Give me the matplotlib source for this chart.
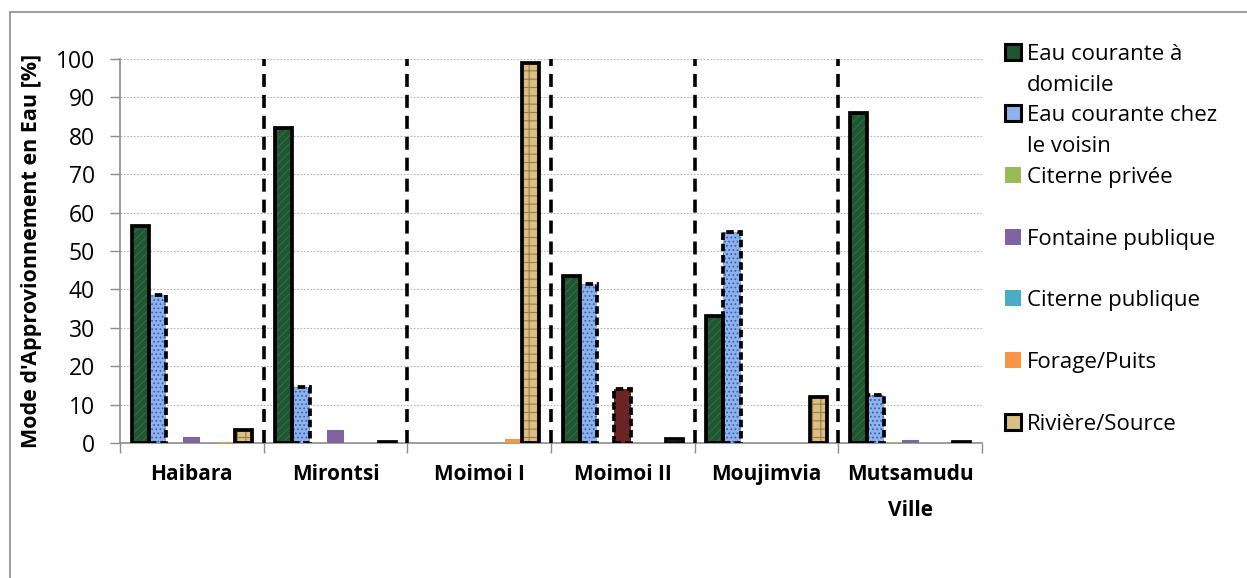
import matplotlib.pyplot as plt
from matplotlib.patches import Rectangle
import numpy as np

# villages et modes d'approvisionnement
villages = ["Haibara", "Mirontsi", "Moimoi I", "Moimoi II", "Moujimvia", "Mutsamudu\nVille"]
modes = ["Eau courante à\ndomicile", "Eau courante chez\nle voisin", "Citerne privée",
         "Fontaine publique", "Citerne publique", "Forage/Puits", "Rivière/Source"]

# pourcentages par village (un tableau par mode)
eau_domicile = [56.5, 82.0, 0.0, 43.5, 33.0, 86.0]
eau_voisin = [38.5, 14.5, 0.0, 41.5, 55.0, 12.5]
citerne_privee = [0.0, 0.0, 0.0, 0.0, 0.0, 0.3]
fontaine_publique = [1.5, 3.5, 0.0, 14.0, 0.0, 0.8]
citerne_publique = [0.0, 0.0, 0.0, 0.0, 0.0, 0.0]
forage_puits = [0.3, 0.0, 1.0, 0.0, 0.0, 0.0]
riviere_source = [3.5, 0.3, 99.0, 1.0, 12.0, 0.3]

series = [eau_domicile, eau_voisin, citerne_privee, fontaine_publique,
          citerne_publique, forage_puits, riviere_source]

yticks = list(range(0, 101, 10))

# style de chaque serie : (fond, couleur de trame, trame, bordure)
styles = [
    ("#1d5631", "#2f6e45", "////", "solid"),
    ("#8db2ee", "#3a62b0", "....", "dashed"),
    ("#9bbb59", None, None, None),
    ("#8064a2", None, None, None),
    ("#4bacc6", None, None, None),
    ("#f79646", None, None, None),
    ("#d9bf84", "#9a7c48", "++", "solid"),
]
# point isolé avec un format particulier (Moimoi II, fontaine)
special = {(3, 3): ("#6a2424", None, None, "dashed")}

plt.rcParams['font.family'] = ['Open Sans', 'DejaVu Sans']
plt.rcParams['hatch.linewidth'] = 0.8

fig = plt.figure(figsize=(12.47, 5.78), dpi=100)
ax = fig.add_axes([120 / 1247, 135 / 578, 862 / 1247, 384 / 578])

# cadre gris autour du graphique
fig.patches.append(Rectangle((10 / 1247, -0.1), 1.2, (578 - 12) / 578 + 0.1,
                             transform=fig.transFigure, fill=False,
                             edgecolor="#8c8c8c", lw=1.2))

n = len(series)
gap = 1.35
w = 1.0 / (n + gap)
x0 = np.arange(len(villages))

dash_bar = (0, (2.0, 1.0))
for k, vals in enumerate(series):
    for i, v in enumerate(vals):
        if v <= 0:
            continue
        face, hcol, hatch, border = special.get((i, k), styles[k])
        left = x0[i] + gap / 2 * w + k * w
        ax.bar(left, v, width=w, align="edge", color=face,
               edgecolor=hcol if hcol else face, hatch=hatch, lw=0, zorder=3)
        if border:
            ax.bar(left, v, width=w, align="edge", fill=False, edgecolor="black",
                   lw=2.7, linestyle="-" if border == "solid" else dash_bar,
                   zorder=4)

# séparateurs entre villages
for b in range(1, len(villages)):
    ax.axvline(b, color="black", lw=2.6, linestyle=(0, (3.6, 2.2)), zorder=5)

ax.set_xlim(0, len(villages))
ax.set_ylim(0, 100)
ax.set_yticks(yticks)
ax.yaxis.grid(True, linestyle=(0, (1.5, 1.5)), color="#b5b5b5", lw=0.8)
ax.set_axisbelow(True)

ax.set_xticks(np.arange(len(villages) + 1))
ax.set_xticklabels([])
ax.set_xticks(x0 + 0.5, minor=True)
ax.set_xticklabels(villages, minor=True, fontweight="bold", fontsize=15,
                   linespacing=1.95)
ax.tick_params(axis="x", which="minor", length=0, pad=15)
ax.tick_params(axis="x", which="major", length=7, color="#8c8c8c", width=1)
ax.tick_params(axis="y", length=7, color="#8c8c8c", width=1, labelsize=16.5, pad=11)

for s in ["top", "right"]:
    ax.spines[s].set_visible(False)
for s in ["left", "bottom"]:
    ax.spines[s].set_color("#8c8c8c")
    ax.spines[s].set_linewidth(1.2)

ax.set_ylabel("Mode d'Approvionnement en Eau [%]", fontweight="bold", fontsize=15.5)
ax.yaxis.set_label_coords(-78 / 862, 0.5)

# légende à droite : une ligne de texte par rangée
leg_y = [52, 113, 175, 237, 298, 360, 422]
line_h = 31
for k, (lab, y) in enumerate(zip(modes, leg_y)):
    face, hcol, hatch, border = styles[k]
    sq = 16
    fig.patches.append(Rectangle((1005 / 1247, (578 - y - sq / 2) / 578), sq / 1247, sq / 578,
                                 transform=fig.transFigure, facecolor=face,
                                 edgecolor="black" if border else face,
                                 lw=2.2 if border else 0))
    for j, part in enumerate(lab.split("\n")):
        fig.text(1027 / 1247, (578 - y - j * line_h) / 578, part, fontsize=16,
                 va="center_baseline")

fig.savefig("out.png", dpi=100)
